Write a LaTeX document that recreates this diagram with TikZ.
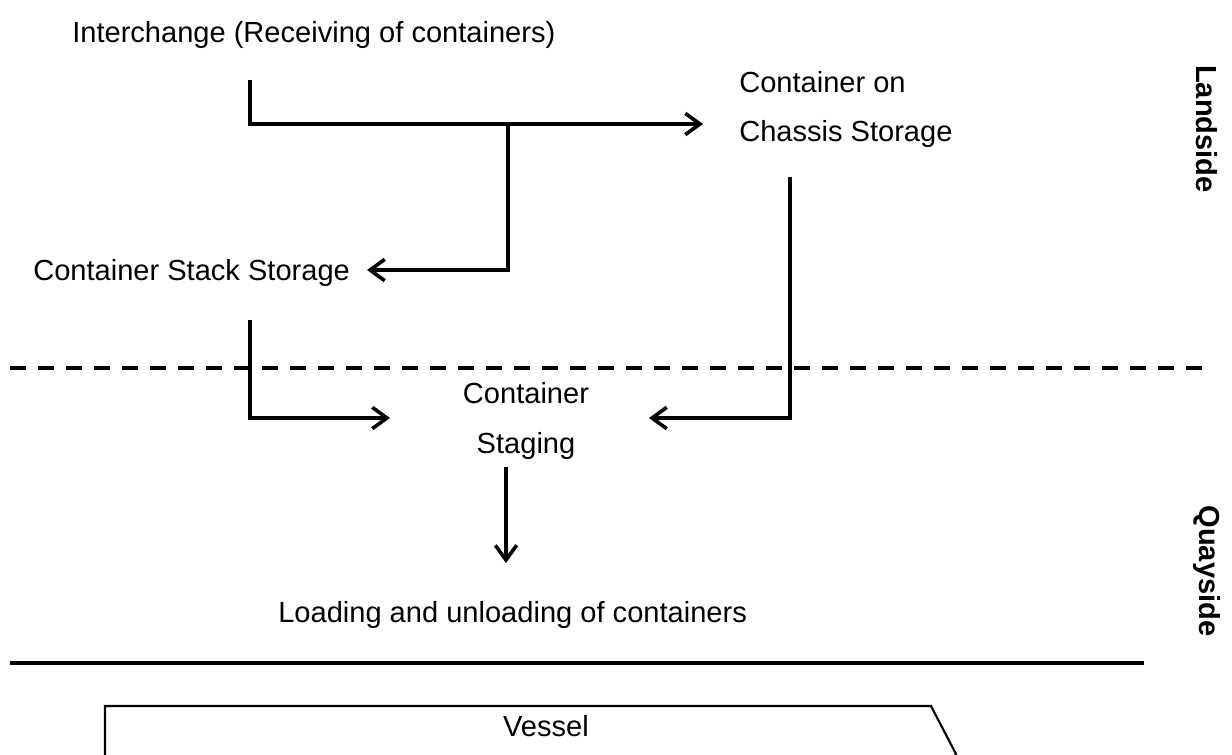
\documentclass[tikz,border=0pt]{standalone}
\usepackage{fontspec}
\setmainfont{Liberation Sans}
\newfontfamily\sidefont{Liberation Sans Bold}
\usetikzlibrary{arrows.meta}
\tikzset{
  lbl/.style={inner sep=0pt, font=\fontsize{21.8}{26}\selectfont},
  side/.style={inner sep=0pt, font=\fontsize{21.8}{26}\sidefont, rotate=-90},
  flow/.style={line width=2.7pt, line cap=butt, line join=miter, -{Straight Barb[length=11pt,width=16pt,line width=2.7pt]}},
  divider/.style={line width=2.8pt, dash pattern=on 12pt off 9pt},
  quay/.style={line width=3.6pt},
  vesselbox/.style={line width=1.6pt, line join=miter}
}
\begin{document}
\begin{tikzpicture}[x=0.75pt,y=-0.75pt]
\useasboundingbox (0,0) rectangle (1232,754);
\clip (0,0) rectangle (1232,754);
% texts
\node[lbl, anchor=base west] (inter) at (72,42) {Interchange (Receiving of containers)};
\node[lbl, anchor=base west] (chassisA) at (739,92) {Container on};
\node[lbl, anchor=base west] (chassisB) at (739,141) {Chassis Storage};
\node[lbl, anchor=base west] (stack) at (33,280) {Container Stack Storage};
\node[lbl, anchor=base] (stageA) at (526,403) {Container};
\node[lbl, anchor=base] (stageB) at (526,453) {Staging};
\node[lbl, anchor=base west] (load) at (278,622) {Loading and unloading of containers};
\node[side] (landside) at (1207,129) {Landside};
\node[side] (quayside) at (1207,571) {Quayside};
% connector points
\coordinate (interOut) at (250,80);
\coordinate (interBend) at (250,124);
\coordinate (chassisIn) at (703,124);
\coordinate (split) at (508,124);
\coordinate (splitBend) at (508,270);
\coordinate (stackIn) at (367,270);
\coordinate (stackOut) at (250,320);
\coordinate (stackBend) at (250,418);
\coordinate (stageInL) at (390,418);
\coordinate (chassisOut) at (790,177);
\coordinate (chassisBend) at (790,418);
\coordinate (stageInR) at (649,418);
\coordinate (stageOut) at (506,467);
\coordinate (loadIn) at (506,563);
% connectors
\draw[flow] (interOut) -- (interBend) -- (chassisIn);
\draw[flow] (split) -- (splitBend) -- (stackIn);
\draw[flow] (stackOut) -- (stackBend) -- (stageInL);
\draw[flow] (chassisOut) -- (chassisBend) -- (stageInR);
\draw[flow] (stageOut) -- (loadIn);
% dividers
\draw[divider] (10,368) -- (1205,368);
\draw[quay] (10,663) -- (1144,663);
% vessel
\draw[vesselbox] (105,810) -- (105,706) -- (931,706) -- (956,754) -- (931,802) -- (105,802);
\node[lbl, anchor=base] (vessel) at (546,736) {Vessel};
\end{tikzpicture}
\end{document}
